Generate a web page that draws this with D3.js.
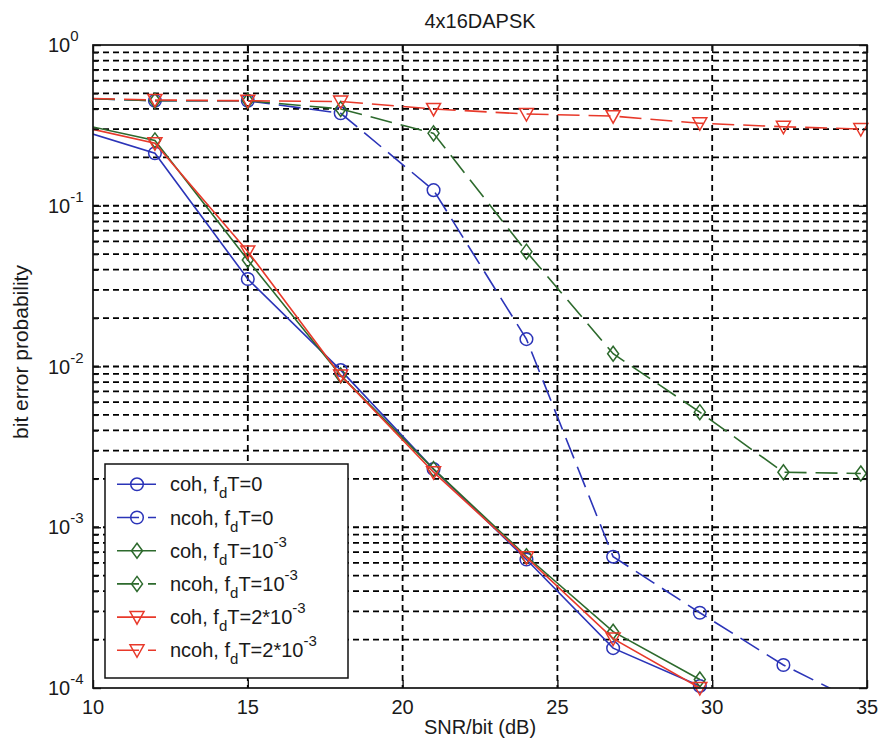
<!DOCTYPE html>
<html>
<head>
<meta charset="utf-8">
<script src="https://cdn.jsdelivr.net/npm/d3@7"></script>
<style>
  html, body { margin: 0; padding: 0; background: #fff; }
  svg { display: block; }
  text { font-family: "Liberation Sans", Arial, Helvetica, sans-serif; fill: #1a1a1a; }
</style>
</head>
<body>
<div id="chart"></div>
<script>
// SNR per bit (dB) at which the bit error probability was evaluated
const snr = [9, 12, 15, 18, 21, 24, 26.8, 29.6, 32.3, 34.8];

// Coherent detection
const cohF0 = [0.32, 0.212, 0.035, 0.0095, 0.0023, 6.3e-4, 1.77e-4, 1.03e-4];
const cohF1 = [0.34, 0.255, 0.046, 0.0088, 0.0023, 6.6e-4, 2.24e-4, 1.13e-4];
const cohF2 = [0.33, 0.245, 0.052, 0.0088, 0.0022, 6.5e-4, 2.03e-4, 1.0e-4];

// Non-coherent detection
const ncohF0 = [0.47, 0.45, 0.45, 0.376, 0.125, 0.0148, 6.56e-4, 2.94e-4, 1.39e-4, 8e-5];
const ncohF1 = [0.47, 0.45, 0.45, 0.40, 0.282, 0.0518, 0.0120, 0.0052, 0.0022, 0.00216];
const ncohF2 = [0.47, 0.455, 0.45, 0.445, 0.40, 0.372, 0.361, 0.326, 0.31, 0.30];

const xTicks = [10, 15, 20, 25, 30, 35];
const yExponents = [0, -1, -2, -3, -4];

const titleText = "4x16DAPSK";
const xLabel = "SNR/bit (dB)";
const yLabel = "bit error probability";

const series = [
  { mode: "coh",  fd: "0",     values: cohF0,  color: "#2b34b8", marker: "circle",  dashed: false },
  { mode: "ncoh", fd: "0",     values: ncohF0, color: "#2b34b8", marker: "circle",  dashed: true  },
  { mode: "coh",  fd: "1e-3",  values: cohF1,  color: "#2d6a2d", marker: "diamond", dashed: false },
  { mode: "ncoh", fd: "1e-3",  values: ncohF1, color: "#2d6a2d", marker: "diamond", dashed: true  },
  { mode: "coh",  fd: "2e-3",  values: cohF2,  color: "#e8392a", marker: "tri",     dashed: false },
  { mode: "ncoh", fd: "2e-3",  values: ncohF2, color: "#e8392a", marker: "tri",     dashed: true  }
];

const W = 881, H = 751;
const m = { left: 93, right: 867, top: 45, bottom: 688 };

const svg = d3.select("#chart").append("svg")
  .attr("width", W).attr("height", H)
  .attr("viewBox", `0 0 ${W} ${H}`);
svg.append("rect").attr("width", W).attr("height", H).attr("fill", "#fff");

const x = d3.scaleLinear().domain([10, 35]).range([m.left, m.right]);
const y = d3.scaleLog().domain([1e-4, 1]).range([m.bottom, m.top]);

svg.append("defs").append("clipPath").attr("id", "plotClip")
  .append("rect").attr("x", m.left).attr("y", m.top)
  .attr("width", m.right - m.left).attr("height", m.bottom - m.top);

// grid: every decade plus minor 2..9
const gridG = svg.append("g").attr("class", "grid");
const yGridVals = [];
for (let e = -4; e < 0; e++) for (let k = 1; k <= 9; k++) yGridVals.push(k * Math.pow(10, e));
gridG.selectAll("line.hy").data(yGridVals.filter(v => v > 1e-4)).enter().append("line")
  .attr("x1", m.left).attr("x2", m.right)
  .attr("y1", d => y(d)).attr("y2", d => y(d))
  .attr("stroke", "#000").attr("stroke-width", 1.8).attr("stroke-dasharray", "6,4");
gridG.selectAll("line.vx").data(xTicks.slice(1, -1)).enter().append("line")
  .attr("x1", d => x(d)).attr("x2", d => x(d))
  .attr("y1", m.top).attr("y2", m.bottom)
  .attr("stroke", "#000").attr("stroke-width", 1.8).attr("stroke-dasharray", "6,4");

// curves
const inRange = (xv, yv) => xv >= 10 && xv <= 35 && yv >= 1e-4 && yv <= 1;
const line = d3.line().x(d => x(d[0])).y(d => y(d[1]));
const plotG = svg.append("g");

function drawMarker(g, type, cx, cy, color) {
  if (type === "circle") {
    g.append("circle").attr("cx", cx).attr("cy", cy).attr("r", 6.3)
      .attr("fill", "none").attr("stroke", color).attr("stroke-width", 1.5);
  } else if (type === "diamond") {
    g.append("path")
      .attr("d", `M${cx},${cy - 7.5}L${cx + 5.5},${cy}L${cx},${cy + 7.5}L${cx - 5.5},${cy}Z`)
      .attr("fill", "none").attr("stroke", color).attr("stroke-width", 1.5);
  } else {
    g.append("path")
      .attr("d", `M${cx - 7},${cy - 5.5}L${cx + 7},${cy - 5.5}L${cx},${cy + 7}Z`)
      .attr("fill", "none").attr("stroke", color).attr("stroke-width", 1.5);
  }
}

series.forEach(s => {
  const pts = s.values.map((v, i) => [snr[i], v]);
  plotG.append("path").datum(pts)
    .attr("clip-path", "url(#plotClip)")
    .attr("d", line)
    .attr("fill", "none").attr("stroke", s.color).attr("stroke-width", 1.6)
    .attr("stroke-dasharray", s.dashed ? "22,9" : null);
  const mg = plotG.append("g");
  pts.filter(p => inRange(p[0], p[1])).forEach(p => drawMarker(mg, s.marker, x(p[0]), y(p[1]), s.color));
});

// axes box and ticks
const axG = svg.append("g");
axG.append("rect").attr("x", m.left).attr("y", m.top)
  .attr("width", m.right - m.left).attr("height", m.bottom - m.top)
  .attr("fill", "none").attr("stroke", "#111").attr("stroke-width", 1.7);

const xAxisB = d3.axisBottom(x).tickValues(xTicks).tickSize(-8).tickFormat("");
const xAxisT = d3.axisTop(x).tickValues(xTicks).tickSize(-8).tickFormat("");
axG.append("g").attr("transform", `translate(0,${m.bottom})`).call(xAxisB);
axG.append("g").attr("transform", `translate(0,${m.top})`).call(xAxisT);

const majorY = yExponents.map(e => Math.pow(10, e));
const minorY = yGridVals.filter(v => !majorY.some(mv => Math.abs(mv - v) / v < 1e-9));
axG.append("g").attr("transform", `translate(${m.left},0)`).call(d3.axisLeft(y).tickValues(majorY).tickSize(-8).tickFormat(""));
axG.append("g").attr("transform", `translate(${m.right},0)`).call(d3.axisRight(y).tickValues(majorY).tickSize(-8).tickFormat(""));
axG.append("g").attr("transform", `translate(${m.left},0)`).call(d3.axisLeft(y).tickValues(minorY).tickSize(-5).tickFormat(""));
axG.append("g").attr("transform", `translate(${m.right},0)`).call(d3.axisRight(y).tickValues(minorY).tickSize(-5).tickFormat(""));
axG.selectAll(".domain").remove();
axG.selectAll(".tick line").attr("stroke", "#111").attr("stroke-width", 1.4);

// tick labels
svg.append("g").selectAll("text").data(xTicks).enter().append("text")
  .attr("x", d => x(d)).attr("y", 714).attr("text-anchor", "middle")
  .attr("font-size", 20).text(d => d);

const yl = svg.append("g").selectAll("text").data(yExponents).enter().append("text")
  .attr("x", 48).attr("y", d => y(Math.pow(10, d)) + 7).attr("font-size", 20);
yl.append("tspan").text("10");
yl.append("tspan").attr("dy", -11).attr("font-size", 15).text(d => d === 0 ? "0" : "-" + Math.abs(d));

// titles
svg.append("text").attr("x", (m.left + m.right) / 2).attr("y", 28)
  .attr("text-anchor", "middle").attr("font-size", 20).text(titleText);
svg.append("text").attr("x", (m.left + m.right) / 2).attr("y", 734)
  .attr("text-anchor", "middle").attr("font-size", 20).text(xLabel);
svg.append("text").attr("transform", `translate(28,352) rotate(-90)`)
  .attr("text-anchor", "middle").attr("font-size", 21).text(yLabel);

// legend
const lg = svg.append("g");
const lx = 105, ly = 464, lw = 243, lh = 214, rowH = 33.2, row0 = 484.3;
lg.append("rect").attr("x", lx).attr("y", ly).attr("width", lw).attr("height", lh)
  .attr("fill", "#fff").attr("stroke", "#111").attr("stroke-width", 1.5);

series.forEach((s, i) => {
  const cy = row0 + i * rowH;
  lg.append("line").attr("x1", 117).attr("x2", 156).attr("y1", cy).attr("y2", cy)
    .attr("stroke", s.color).attr("stroke-width", 1.6)
    .attr("stroke-dasharray", s.dashed ? "22,9" : null);
  drawMarker(lg, s.marker, 137, cy, s.color);
  const t = lg.append("text").attr("x", 170).attr("y", cy + 7).attr("font-size", 20);
  t.append("tspan").text(s.mode + ", f");
  t.append("tspan").attr("dy", 7).attr("font-size", 15).text("d");
  t.append("tspan").attr("dy", -7).text(s.fd === "0" ? "T=0" : (s.fd === "1e-3" ? "T=10" : "T=2*10"));
  if (s.fd !== "0") t.append("tspan").attr("dy", -11).attr("font-size", 15).text("-3");
});
</script>
</body>
</html>
